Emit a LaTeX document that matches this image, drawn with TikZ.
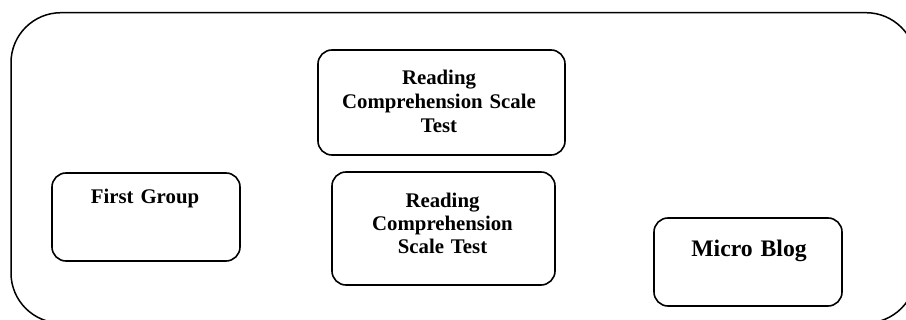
\documentclass[tikz,border=0pt]{standalone}
\usepackage{fontspec}
\setmainfont{Liberation Serif}
\begin{document}
\begin{tikzpicture}[x=1pt,y=-1pt,
  box/.style={draw, line width=1.6pt, rounded corners=14pt, inner sep=0pt},
  lbl/.style={font=\fontsize{20.8}{24}\selectfont\bfseries, align=center,
              text width=220pt, inner sep=0pt, anchor=base},
  biglbl/.style={lbl, font=\fontsize{23.7}{26}\selectfont\bfseries}
]
\useasboundingbox (0,0) rectangle (906,320);
\begin{scope}
  \clip (0,0) rectangle (906,320);
  \node[draw, line width=1.5pt, rounded corners=50pt, inner sep=0pt,
        minimum width=905pt, minimum height=310.3pt] (frame) at (463.5,167.85) {};
\end{scope}
\node[box, minimum width=247pt, minimum height=105pt] (t1) at (441.5,102.5) {};
\node[box, minimum width=223pt, minimum height=113pt] (t2) at (443.5,228.5) {};
\node[box, minimum width=188pt, minimum height=88pt] (fg) at (146,217) {};
\node[box, minimum width=188pt, minimum height=88pt] (mb) at (748,262) {};
\node[lbl] (t1text) at (439,85) {Reading\\Comprehension Scale\\Test};
\node[lbl, font=\fontsize{20.8}{23}\selectfont\bfseries] (t2text) at (442.5,208) {Reading\\Comprehension\\Scale Test};
\node[lbl] (fgtext) at (145,204) {First Group};
\node[biglbl] (mbtext) at (749,257) {Micro Blog};
\end{tikzpicture}
\end{document}
